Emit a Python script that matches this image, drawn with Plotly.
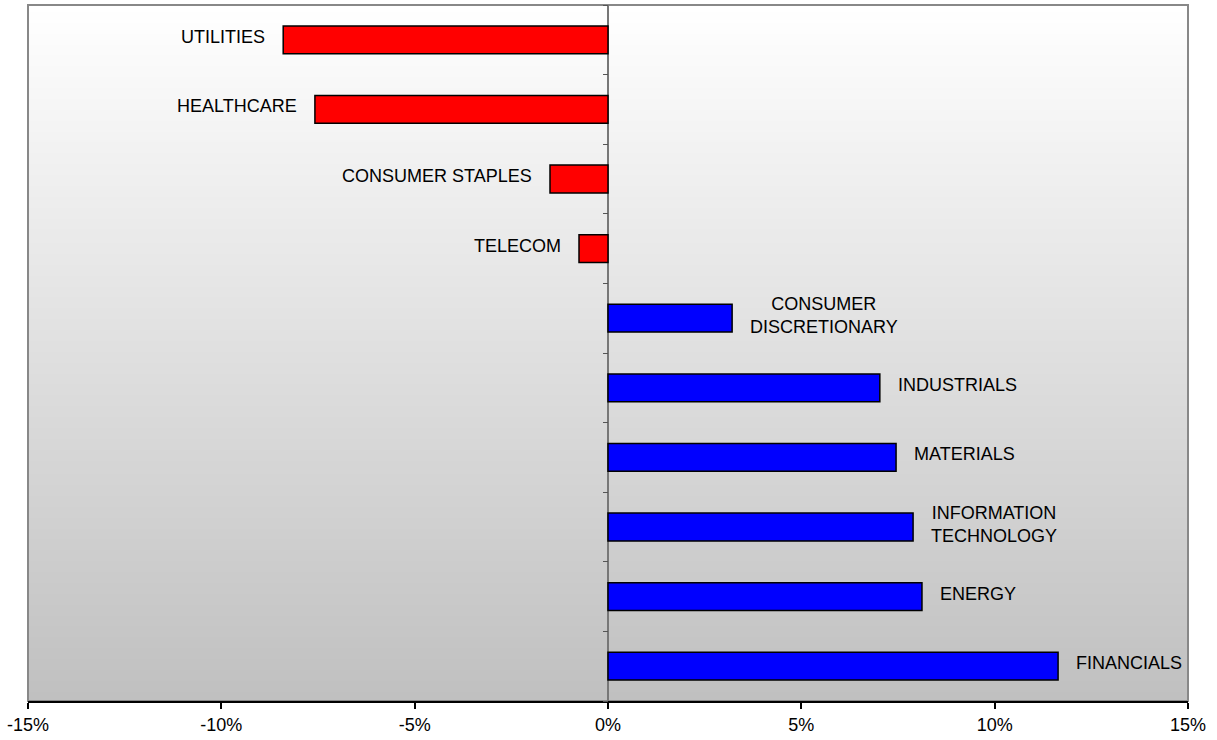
import base64
import struct
import zlib

import plotly.graph_objects as go

# Sector returns, top to bottom
sectors = [
    "UTILITIES", "HEALTHCARE", "CONSUMER STAPLES", "TELECOM",
    "CONSUMER<br>DISCRETIONARY", "INDUSTRIALS", "MATERIALS",
    "INFORMATION<br>TECHNOLOGY", "ENERGY", "FINANCIALS",
]
returns = [-8.40, -7.58, -1.50, -0.75, 3.21, 7.03, 7.45, 7.89, 8.12, 11.64]
x_ticks = [-15, -10, -5, 0, 5, 10, 15]
x_tick_text = ["-15%", "-10%", "-5%", "0%", "5%", "10%", "15%"]

FONT = "Liberation Sans, Arial, sans-serif"


def gradient_png(top, bottom, height=256):
    """Vertical grey gradient as a 1-pixel-wide PNG data URI."""
    rows = b""
    for i in range(height):
        t = i / (height - 1)
        v = round(top + (bottom - top) * t)
        rows += b"\x00" + bytes([v, v, v])

    def chunk(tag, data):
        c = tag + data
        return struct.pack(">I", len(data)) + c + struct.pack(">I", zlib.crc32(c) & 0xFFFFFFFF)

    png = b"\x89PNG\r\n\x1a\n"
    png += chunk(b"IHDR", struct.pack(">IIBBBBB", 1, height, 8, 2, 0, 0, 0))
    png += chunk(b"IDAT", zlib.compress(rows, 9))
    png += chunk(b"IEND", b"")
    return "data:image/png;base64," + base64.b64encode(png).decode()


n = len(sectors)
ypos = list(range(n))
colors = ["#ff0000" if v < 0 else "#0000ff" for v in returns]

fig = go.Figure()
fig.add_trace(go.Bar(
    x=returns, y=ypos, orientation="h", width=0.4,
    marker=dict(color=colors, line=dict(color="black", width=1.5)),
    hoverinfo="skip", showlegend=False,
))

# Sector labels just beyond the end of each bar
for i, (name, v) in enumerate(zip(sectors, returns)):
    fig.add_annotation(
        x=v, y=i, xref="x", yref="y", text=name, showarrow=False,
        xanchor="right" if v < 0 else "left", align="center",
        xshift=-16 if v < 0 else 16, yshift=3,
        font=dict(family=FONT, size=18, color="black"),
    )

fig.update_layout(
    width=1217, height=740,
    margin=dict(l=28, r=29, t=5, b=39),
    paper_bgcolor="white", plot_bgcolor="rgba(0,0,0,0)",
    font=dict(family=FONT, size=18, color="black"),
    bargap=0.6,
    xaxis=dict(
        range=[-15, 15], tickvals=x_ticks, ticktext=x_tick_text,
        showgrid=False, zeroline=True, zerolinecolor="#777777", zerolinewidth=2,
        showline=True, linecolor="black", linewidth=2,
        ticks="outside", ticklen=6, tickwidth=1.5, tickcolor="black",
        tickfont=dict(family=FONT, size=18, color="black"),
    ),
    yaxis=dict(
        range=[n - 0.5, -0.5], showticklabels=False, showgrid=False,
        zeroline=False, showline=False, ticks="",
    ),
    # category divider ticks along the zero line
    yaxis2=dict(
        overlaying="y", anchor="free", position=0.5, side="left",
        range=[n - 0.5, -0.5], tickvals=[k - 0.5 for k in range(n + 1)],
        showticklabels=False, showgrid=False, zeroline=False, showline=False,
        ticks="outside", ticklen=5, tickwidth=1.2, tickcolor="#555555",
    ),
    images=[dict(
        source=gradient_png(255, 192), xref="paper", yref="paper",
        x=0, y=1, sizex=1, sizey=1, xanchor="left", yanchor="top",
        sizing="stretch", layer="below",
    )],
    shapes=[dict(
        type="rect", xref="paper", yref="paper", x0=0, x1=1, y0=0, y1=1,
        line=dict(color="#888888", width=2), layer="below",
    )],
)

# invisible trace so the divider-tick axis is rendered
fig.add_trace(go.Scatter(
    x=[0], y=[0], yaxis="y2", mode="markers",
    marker=dict(opacity=0), hoverinfo="skip", showlegend=False,
))

fig.write_html("out.html")
